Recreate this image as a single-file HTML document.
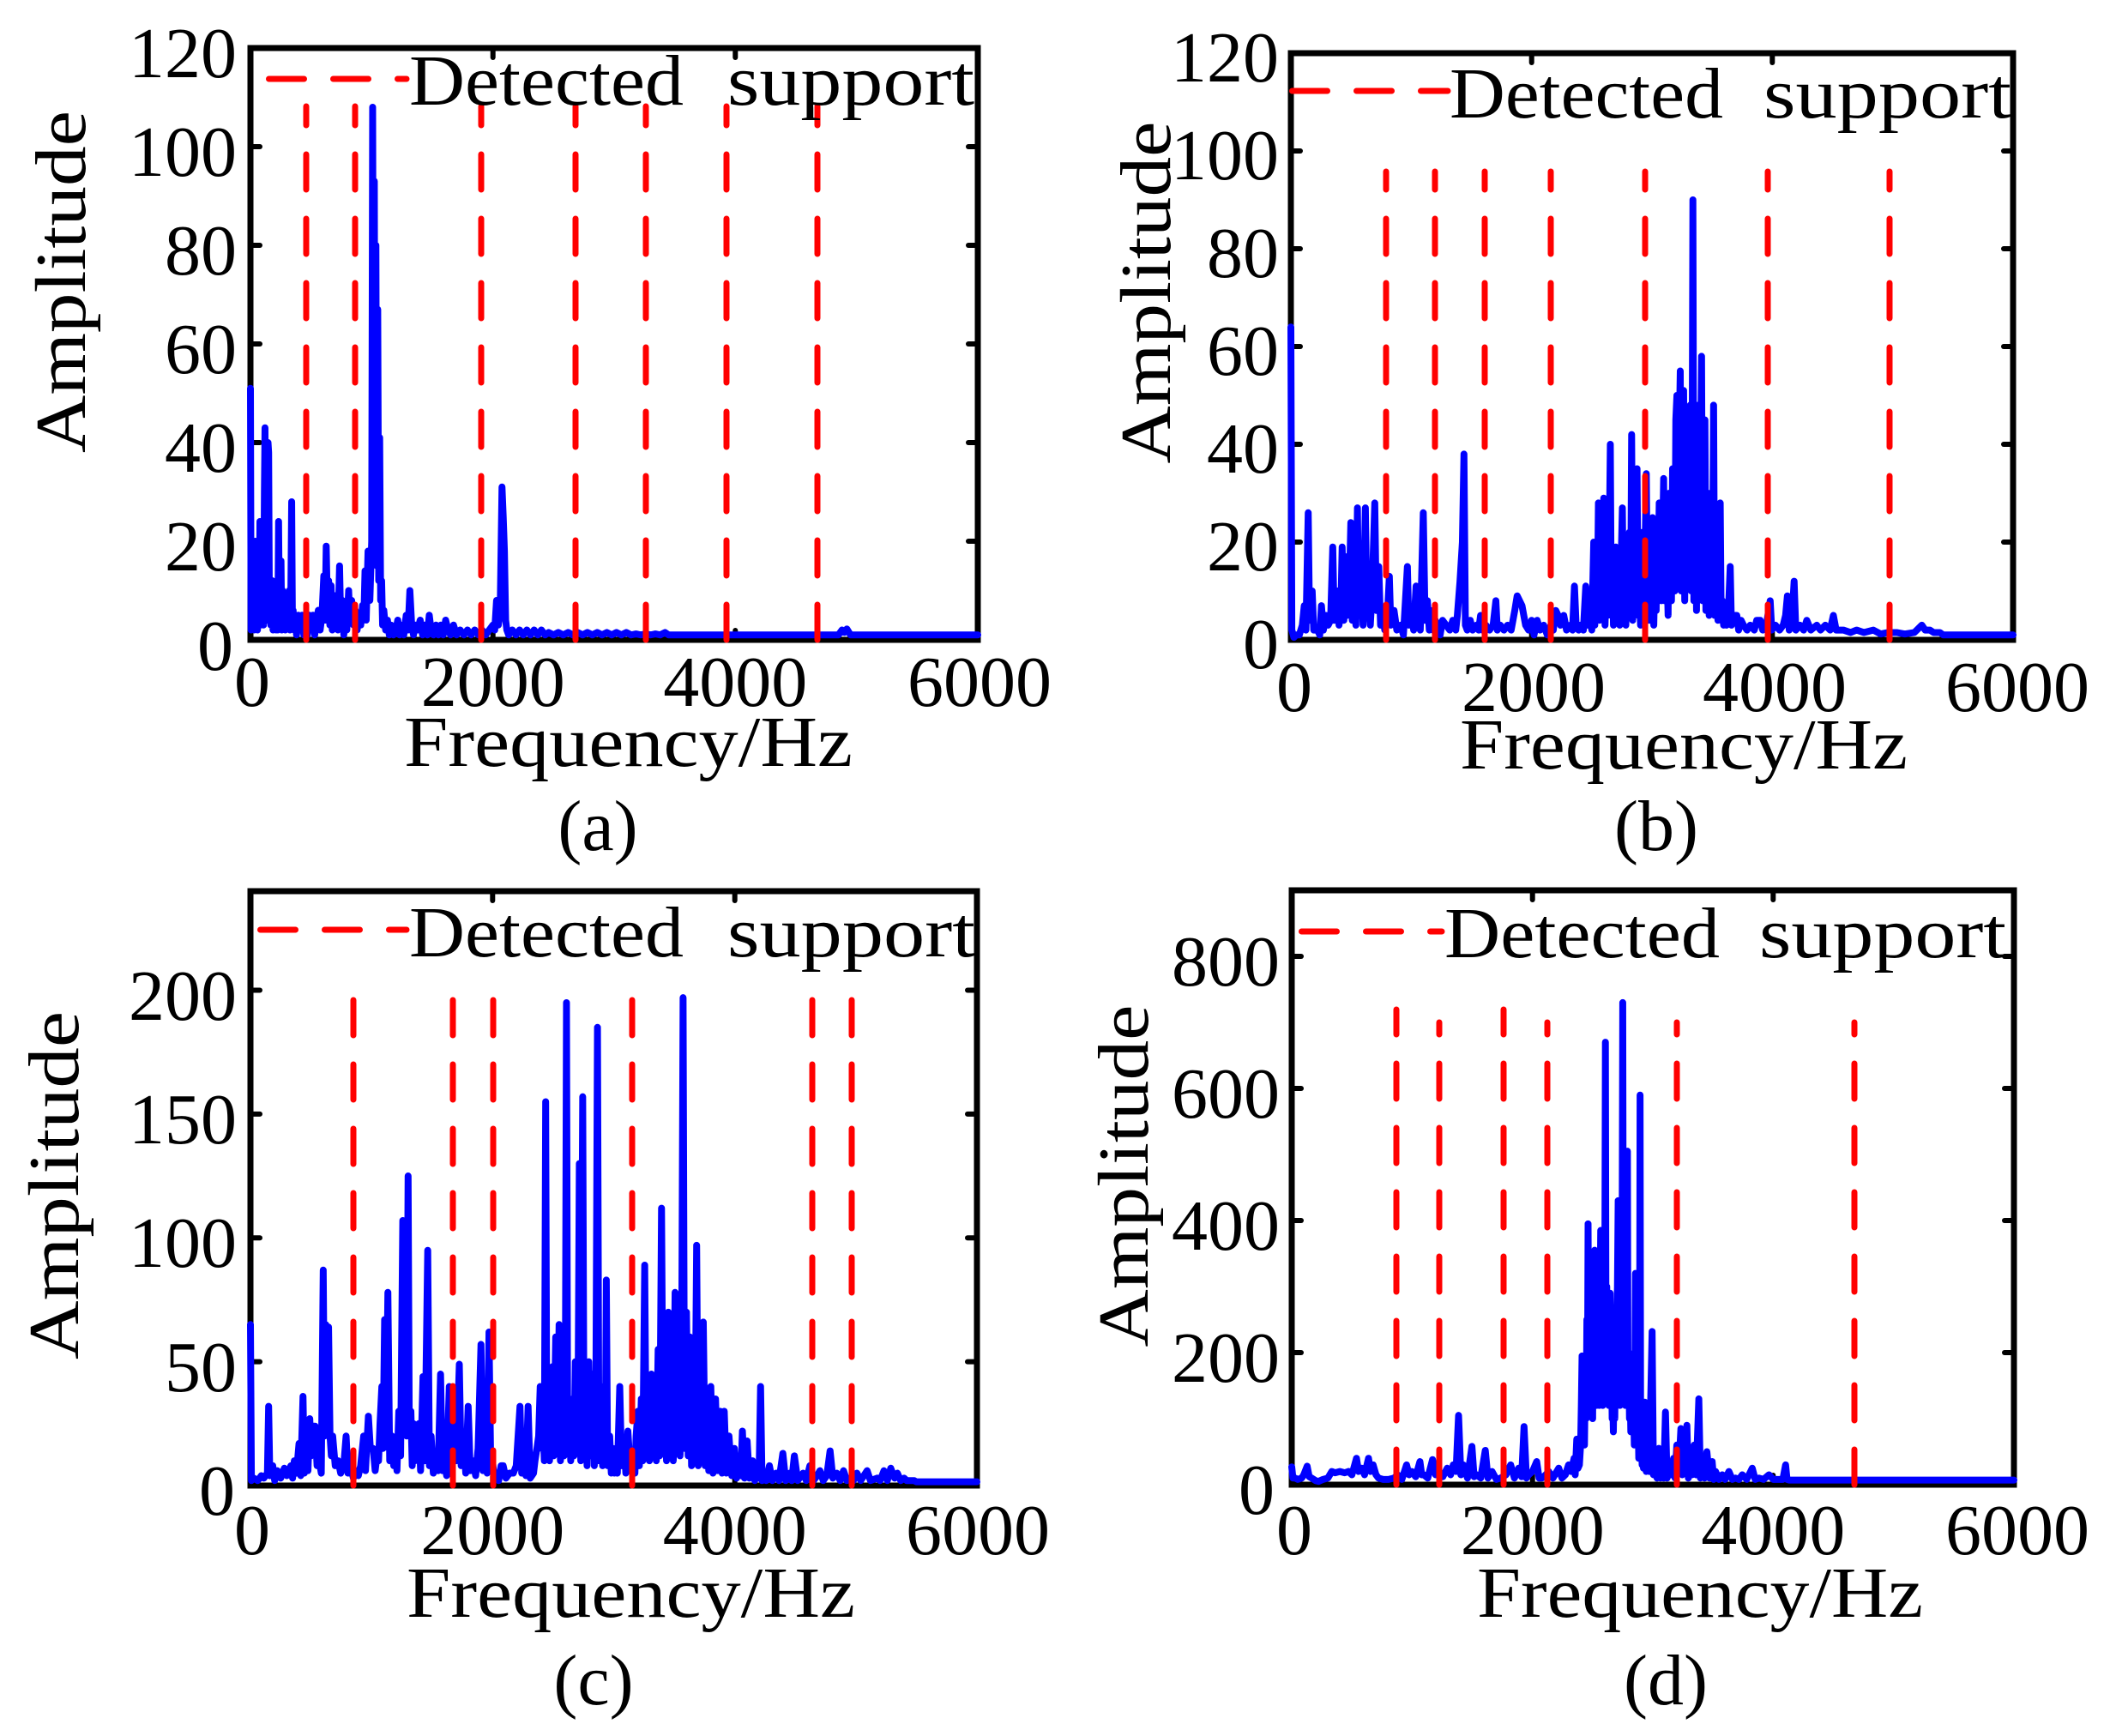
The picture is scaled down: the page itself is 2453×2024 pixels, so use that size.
<!DOCTYPE html>
<html>
<head>
<meta charset="utf-8">
<style>
html,body{margin:0;padding:0;background:#fff;}
svg{display:block;}
</style>
</head>
<body>
<svg xmlns="http://www.w3.org/2000/svg" width="2453" height="2024" viewBox="0 0 2453 2024" font-family="'Liberation Serif', serif" font-size="84" fill="#000">
<rect x="0" y="0" width="2453" height="2024" fill="#fff"/>

<!-- ================= AXES (drawn beneath data) ================= -->
<g fill="none" stroke="#000" stroke-width="7">
<rect x="292" y="56" width="848" height="690"/>
<rect x="1505" y="62" width="842" height="684"/>
<rect x="292" y="1039" width="847" height="693"/>
<rect x="1506" y="1038" width="842" height="693"/>
</g>
<g stroke="#000" stroke-width="6" stroke-linecap="round">
<line x1="292" y1="631" x2="303" y2="631"/><line x1="292" y1="516" x2="303" y2="516"/><line x1="292" y1="401" x2="303" y2="401"/><line x1="292" y1="286" x2="303" y2="286"/><line x1="292" y1="171" x2="303" y2="171"/>
<line x1="1140" y1="631" x2="1129" y2="631"/><line x1="1140" y1="516" x2="1129" y2="516"/><line x1="1140" y1="401" x2="1129" y2="401"/><line x1="1140" y1="286" x2="1129" y2="286"/><line x1="1140" y1="171" x2="1129" y2="171"/>
<line x1="574.7" y1="746" x2="574.7" y2="735"/><line x1="857.3" y1="746" x2="857.3" y2="735"/>
<line x1="574.7" y1="56" x2="574.7" y2="67"/><line x1="857.3" y1="56" x2="857.3" y2="67"/>
<line x1="1505" y1="632" x2="1516" y2="632"/><line x1="1505" y1="518" x2="1516" y2="518"/><line x1="1505" y1="404" x2="1516" y2="404"/><line x1="1505" y1="290" x2="1516" y2="290"/><line x1="1505" y1="176" x2="1516" y2="176"/>
<line x1="2347" y1="632" x2="2336" y2="632"/><line x1="2347" y1="518" x2="2336" y2="518"/><line x1="2347" y1="404" x2="2336" y2="404"/><line x1="2347" y1="290" x2="2336" y2="290"/><line x1="2347" y1="176" x2="2336" y2="176"/>
<line x1="1785.7" y1="746" x2="1785.7" y2="735"/><line x1="2066.3" y1="746" x2="2066.3" y2="735"/>
<line x1="1785.7" y1="62" x2="1785.7" y2="73"/><line x1="2066.3" y1="62" x2="2066.3" y2="73"/>
<line x1="292" y1="1587.6" x2="303" y2="1587.6"/><line x1="292" y1="1443.3" x2="303" y2="1443.3"/><line x1="292" y1="1298.9" x2="303" y2="1298.9"/><line x1="292" y1="1154.5" x2="303" y2="1154.5"/>
<line x1="1139" y1="1587.6" x2="1128" y2="1587.6"/><line x1="1139" y1="1443.3" x2="1128" y2="1443.3"/><line x1="1139" y1="1298.9" x2="1128" y2="1298.9"/><line x1="1139" y1="1154.5" x2="1128" y2="1154.5"/>
<line x1="574.3" y1="1732" x2="574.3" y2="1721"/><line x1="856.7" y1="1732" x2="856.7" y2="1721"/>
<line x1="574.3" y1="1039" x2="574.3" y2="1050"/><line x1="856.7" y1="1039" x2="856.7" y2="1050"/>
<line x1="1506" y1="1577" x2="1517" y2="1577"/><line x1="1506" y1="1423" x2="1517" y2="1423"/><line x1="1506" y1="1269" x2="1517" y2="1269"/><line x1="1506" y1="1115" x2="1517" y2="1115"/>
<line x1="2348" y1="1577" x2="2337" y2="1577"/><line x1="2348" y1="1423" x2="2337" y2="1423"/><line x1="2348" y1="1269" x2="2337" y2="1269"/><line x1="2348" y1="1115" x2="2337" y2="1115"/>
<line x1="1786.7" y1="1731" x2="1786.7" y2="1720"/><line x1="2067.3" y1="1731" x2="2067.3" y2="1720"/>
<line x1="1786.7" y1="1038" x2="1786.7" y2="1049"/><line x1="2067.3" y1="1038" x2="2067.3" y2="1049"/>
</g>

<!-- ================= DATA ================= -->
<g fill="none" stroke="#0000ff" stroke-width="8" stroke-linejoin="round" stroke-linecap="round">
<!-- (a) -->
<polyline class="sp" vector-effect="non-scaling-stroke" transform="translate(292,746) scale(0.141333,-5.75)" points="0,51 5,2 12,10 18,3 25,8 32,2 40,20 46,3 52,10 58,2 66,12 72,3 78,24 84,3 90,20 96,4 102,10 108,3 115,30 120,43 126,6 132,12 138,4 145,40 150,38 156,8 162,12 168,3 175,10 180,12 186,2 192,8 198,3 205,6 212,2 220,10 226,2 232,24 238,6 245,3 252,16 258,2 265,10 272,3 280,6 288,2 296,8 304,3 312,6 320,10 326,2 332,6 340,28 346,4 352,6 360,2 368,5 380,1 395,5 410,2 425,5 440,1 455,5 470,1 485,5 500,2 515,5 530,1 545,4 560,6 575,2 590,5 605,13 615,4 625,19 635,6 645,12 655,3 665,11 675,2 690,9 700,3 712,8 722,2 735,15 745,3 758,8 770,1 785,6 795,2 810,10 820,4 835,8 850,3 865,6 880,2 895,5 910,3 925,7 935,4 945,14 955,4 970,18 985,8 1000,20 1008,108 1015,30 1022,93 1028,20 1035,80 1042,15 1050,67 1058,12 1066,41 1074,8 1082,12 1090,3 1100,6 1115,2 1130,4 1145,1 1160,3 1180,1 1200,2 1215,4 1230,1 1245,3 1265,1 1285,5 1300,2 1315,10 1330,3 1345,1 1360,3 1380,2 1400,4 1420,1 1440,3 1460,1 1475,5 1490,2 1510,1 1530,3 1550,1 1570,3 1590,1 1610,4 1630,2 1650,1 1675,3 1700,1 1730,2 1760,1 1790,2 1820,1 1850,2 1880,1 1910,2 1940,1 1970,2 2000,3 2015,2 2030,8 2045,3 2060,6 2075,31 2085,25 2095,18 2105,4 2115,2 2130,1 2160,2 2190,1 2220,2 2250,1 2280,2 2310,1 2340,2 2370,1 2400,2 2430,1 2460,1.5 2500,1 2540,1.5 2580,1 2620,1.5 2660,1 2700,1.5 2740,1 2780,1.5 2820,1 2860,1.5 2900,1 2940,1.5 2980,1 3020,1.5 3060,1 3100,1.5 3140,1 3180,1.2 3220,1 3260,1.2 3300,1 3340,1.2 3380,1 3420,1.5 3450,1 4850,1 4880,2 4900,1.5 4920,2.2 4950,1 6000,1"/>
<!-- (b) -->
<polyline class="sp" vector-effect="non-scaling-stroke" transform="translate(1505,746) scale(0.140333,-5.7)" points="0,64 8,2 25,0.5 44,1 70,1 95,3 111,7 125,2 144,26 155,4 177,10 190,2 221,2 240,1 254,7 270,2 293,5 310,3 330,4 348,19 360,4 375,10 387,10 400,3 415,6 426,19 440,4 459,17 470,5 485,10 498,24 510,4 525,15 540,3 553,27 565,5 586,12 600,3 619,27 632,5 647,8 660,3 675,10 697,28 710,6 730,15 745,3 763,5 780,2 800,4 818,13 830,3 857,6 880,2 912,3 935,1 968,15 980,3 1001,6 1020,2 1040,11 1052,3 1062,4 1075,2 1100,26 1115,4 1134,8 1150,2 1161,6 1180,2 1200,4 1217,3 1240,1 1260,4 1290,3 1320,2 1345,4 1370,2 1383,5 1405,12 1425,20 1438,38 1450,3 1465,2 1490,4 1510,2 1540,3 1560,2 1576,5 1590,2 1620,3 1650,2 1680,3 1703,8 1715,2 1740,3 1770,2 1800,3 1830,2 1860,6 1880,9 1900,8 1920,7 1935,5 1950,3 1975,2 2000,4 2020,1 2046,4 2070,2 2100,3 2130,1 2160,3 2180,2 2201,6 2220,5 2240,3 2267,5 2290,2 2320,3 2340,2 2356,11 2370,3 2390,2 2405,3 2430,2 2450,11 2465,3 2488,4 2500,2 2516,20 2525,3 2533,16 2545,5 2555,28 2565,4 2580,18 2590,6 2599,29 2610,3 2620,12 2632,5 2643,15 2654,40 2662,5 2672,14 2680,3 2690,17 2699,19 2710,4 2720,12 2732,3 2743,15 2754,27 2763,6 2773,18 2783,3 2793,18 2803,8 2812,22 2822,5 2831,42 2840,4 2850,20 2858,6 2866,15 2876,35 2885,5 2895,12 2905,3 2912,18 2920,22 2930,5 2940,14 2953,34 2962,6 2972,18 2980,4 2986,20 2995,8 3005,25 3015,3 3025,15 3035,6 3042,22 3050,10 3060,28 3069,26 3078,8 3088,20 3097,33 3105,8 3115,25 3124,15 3134,5 3143,30 3152,20 3162,8 3171,35 3180,30 3190,10 3198,45 3207,50 3215,12 3225,40 3235,55 3243,10 3253,35 3263,51 3272,8 3280,30 3290,40 3298,12 3308,35 3318,48 3326,10 3333,30 3340,90 3348,8 3356,20 3362,35 3370,6 3377,30 3384,48 3392,10 3400,25 3412,58 3420,8 3428,30 3440,45 3448,6 3458,20 3467,30 3475,5 3485,15 3495,8 3505,20 3512,48 3520,5 3530,12 3539,12 3548,4 3558,10 3567,28 3575,4 3585,8 3595,3 3606,7 3620,3 3635,6 3650,15 3660,3 3680,5 3705,5 3720,2 3740,4 3760,3 3790,2 3816,3 3850,2 3870,4 3899,4 3920,2 3950,3 3982,8 3995,2 4026,3 4060,2 4090,3 4110,5 4125,9 4140,2 4160,3 4181,12 4195,2 4230,3 4260,2 4286,4 4320,2 4369,3 4400,2 4440,3 4480,2 4507,5 4530,2 4560,2 4590,2 4650,1.5 4700,2 4760,1.5 4839,2 4900,1.2 4960,1.5 5032,1.5 5100,1.2 5180,1.5 5242,3 5270,2 5309,2 5340,1.5 5392,1.5 5420,1 6000,1"/>
<!-- (c) -->
<polyline class="sp" vector-effect="non-scaling-stroke" transform="translate(292,1732) scale(0.141167,-2.8875)" points="0,65 8,2 28,3 60,2 90,4 111,3 140,5 150,32 160,4 184,8 200,2 223,6 250,3 280,7 300,4 334,8 348,3 362,10 380,5 401,17 415,4 434,36 445,5 462,15 475,6 490,27 501,12 515,24 534,24 550,8 568,10 585,5 601,87 612,20 622,65 635,40 645,64 657,20 668,12 679,20 700,8 724,10 745,5 770,8 790,20 805,5 824,8 850,3 870,6 891,4 910,8 935,20 950,6 974,28 990,15 1013,15 1030,6 1045,12 1058,10 1070,25 1085,40 1095,15 1108,67 1120,20 1135,78 1150,10 1169,20 1183,8 1197,15 1210,6 1225,30 1240,12 1258,107 1268,25 1280,90 1290,20 1302,125 1312,20 1325,30 1336,8 1347,25 1360,10 1375,18 1391,25 1405,6 1425,44 1440,10 1464,95 1478,8 1492,20 1510,5 1531,10 1550,6 1570,45 1585,6 1603,10 1620,4 1642,40 1660,8 1681,38 1700,10 1725,49 1740,8 1759,20 1778,5 1798,32 1815,6 1837,10 1860,4 1880,15 1904,57 1920,6 1937,15 1955,5 1970,62 1985,6 1998,10 2015,3 2032,5 2050,2 2070,8 2087,8 2110,3 2140,5 2171,5 2195,8 2226,32 2240,5 2260,10 2275,4 2293,32 2310,3 2338,5 2350,10 2366,15 2380,20 2393,40 2405,15 2416,25 2427,10 2438,155 2448,12 2460,30 2470,10 2482,35 2494,48 2505,12 2521,60 2535,15 2549,65 2560,10 2577,25 2590,12 2600,30 2610,195 2620,15 2633,30 2645,10 2661,35 2672,12 2683,50 2695,15 2705,30 2716,130 2728,10 2744,157 2755,15 2766,40 2780,8 2794,50 2810,12 2828,45 2840,8 2852,30 2866,185 2878,10 2894,40 2908,8 2922,28 2930,10 2939,83 2950,8 2967,20 2980,5 2995,15 3005,5 3017,10 3030,5 3050,40 3065,8 3089,15 3100,5 3117,22 3135,8 3156,12 3175,5 3185,20 3200,30 3212,8 3228,35 3240,10 3256,89 3268,12 3284,40 3295,10 3312,45 3325,12 3340,30 3352,10 3367,55 3380,12 3395,112 3408,15 3423,55 3436,10 3451,70 3465,12 3479,45 3492,10 3507,78 3520,15 3534,75 3548,12 3560,40 3573,197 3585,15 3601,70 3615,12 3629,60 3643,8 3657,35 3670,10 3685,97 3698,8 3713,40 3726,10 3740,66 3755,8 3768,25 3785,6 3802,40 3820,5 3841,35 3860,6 3880,30 3895,5 3913,30 3930,5 3952,20 3975,4 3997,15 4015,3 4035,10 4050,4 4063,22 4080,3 4102,18 4120,3 4147,10 4165,2 4186,8 4200,3 4213,40 4225,2 4241,5 4260,2 4286,8 4310,2 4341,5 4365,2 4397,13 4420,2 4453,5 4470,2 4492,12 4520,2 4564,5 4590,2 4620,8 4650,2 4680,4 4703,6 4730,2 4760,4 4787,14 4810,3 4842,5 4870,2 4898,6 4925,2 4954,3 4980,2 5009,5 5040,2 5093,6 5120,2 5176,3 5200,2 5232,6 5260,2 5288,7 5320,3 5343,5 5370,2 5399,3 5420,2 5482,2 5500,1.5 6000,1.5"/>
<!-- (d) -->
<polyline class="sp" vector-effect="non-scaling-stroke" transform="translate(1506,1731) scale(0.140333,-0.77)" points="0,27 10,10 28,10 50,8 83,10 100,15 128,28 145,12 166,10 200,6 222,5 260,8 300,10 333,20 360,18 400,20 440,18 471,20 500,15 538,40 555,20 582,25 605,15 638,40 655,20 676,30 700,15 721,10 760,8 804,8 850,10 880,15 915,8 954,30 975,15 998,20 1030,12 1065,35 1080,15 1098,15 1130,10 1170,38 1195,15 1220,20 1255,12 1292,25 1320,15 1342,30 1365,20 1386,105 1405,15 1425,30 1460,10 1497,58 1515,12 1536,15 1570,10 1608,52 1630,10 1664,20 1700,8 1736,10 1780,15 1819,30 1850,10 1885,25 1910,12 1930,88 1950,10 1968,15 2000,20 2035,35 2055,10 2079,10 2110,15 2135,20 2170,10 2218,25 2245,10 2273,15 2300,30 2320,20 2346,40 2355,15 2368,69 2378,25 2390,30 2400,60 2406,120 2412,195 2418,90 2425,140 2432,60 2440,180 2446,100 2452,250 2457,150 2462,395 2467,180 2472,260 2478,120 2484,300 2490,150 2495,220 2500,100 2506,300 2511,180 2517,355 2523,200 2529,250 2535,120 2541,280 2546,150 2551,200 2556,120 2561,260 2567,385 2572,150 2578,220 2584,120 2590,180 2595,140 2600,250 2606,670 2611,200 2617,300 2623,200 2628,260 2634,120 2640,220 2645,290 2650,150 2656,200 2662,100 2667,130 2672,80 2678,150 2684,100 2689,200 2695,120 2700,250 2706,300 2712,430 2717,150 2722,250 2728,120 2733,200 2738,150 2744,300 2750,730 2755,200 2761,280 2767,180 2772,120 2778,200 2784,150 2789,505 2794,120 2800,200 2806,100 2811,150 2817,80 2822,120 2828,180 2834,80 2840,120 2846,60 2851,150 2856,320 2861,80 2866,120 2872,60 2878,100 2883,40 2889,80 2894,590 2899,40 2905,80 2911,30 2917,60 2922,25 2933,125 2945,20 2956,40 2970,20 2994,232 3005,15 3022,20 3035,10 3050,55 3063,10 3077,25 3090,10 3105,110 3118,10 3133,20 3150,15 3172,40 3185,10 3199,60 3215,20 3233,85 3245,15 3260,40 3272,20 3283,90 3295,10 3310,30 3325,15 3344,60 3360,15 3382,130 3395,10 3410,40 3430,10 3449,50 3470,10 3493,35 3505,8 3521,20 3550,8 3577,15 3600,8 3632,20 3660,8 3687,10 3715,8 3743,15 3780,8 3826,25 3850,8 3882,10 3920,8 3965,15 4000,8 4048,8 4080,8 4103,30 4115,8 4131,7 6000,7"/>
</g>

<!-- ================= RED DASHED LINES ================= -->
<g stroke="#ff0000" stroke-width="7" stroke-linecap="round" stroke-dasharray="41 34" fill="none">
<line x1="357" y1="746" x2="357" y2="124"/>
<line x1="414" y1="746" x2="414" y2="124"/>
<line x1="561" y1="746" x2="561" y2="124"/>
<line x1="671" y1="746" x2="671" y2="124"/>
<line x1="753" y1="746" x2="753" y2="124"/>
<line x1="847" y1="746" x2="847" y2="124"/>
<line x1="953" y1="746" x2="953" y2="124"/>
<line x1="313.5" y1="92" x2="474" y2="92"/>
<line x1="1616" y1="746" x2="1616" y2="200"/>
<line x1="1673" y1="746" x2="1673" y2="200"/>
<line x1="1731" y1="746" x2="1731" y2="200"/>
<line x1="1808" y1="746" x2="1808" y2="200"/>
<line x1="1918" y1="746" x2="1918" y2="200"/>
<line x1="2061" y1="746" x2="2061" y2="200"/>
<line x1="2203" y1="746" x2="2203" y2="200"/>
<line x1="1506.5" y1="106" x2="1688" y2="106"/>
<line x1="412" y1="1732" x2="412" y2="1162"/>
<line x1="528" y1="1732" x2="528" y2="1162"/>
<line x1="575" y1="1732" x2="575" y2="1162"/>
<line x1="737" y1="1732" x2="737" y2="1162"/>
<line x1="947" y1="1732" x2="947" y2="1162"/>
<line x1="993" y1="1732" x2="993" y2="1162"/>
<line x1="303.5" y1="1084" x2="474" y2="1084"/>
<line x1="1628" y1="1731" x2="1628" y2="1177"/>
<line x1="1678" y1="1731" x2="1678" y2="1192"/>
<line x1="1753" y1="1731" x2="1753" y2="1177"/>
<line x1="1804" y1="1731" x2="1804" y2="1192"/>
<line x1="1955" y1="1731" x2="1955" y2="1192"/>
<line x1="2162" y1="1731" x2="2162" y2="1192"/>
<line x1="1517.5" y1="1086" x2="1681" y2="1086"/>
</g>

<!-- ================= TEXT ================= -->
<g text-anchor="end">
<text x="276" y="90">120</text><text x="276" y="205">100</text><text x="276" y="320">80</text><text x="276" y="435">60</text><text x="276" y="550">40</text><text x="276" y="665">20</text><text x="272" y="781">0</text>
</g>
<g text-anchor="middle">
<text x="294" y="823">0</text><text x="574.7" y="823">2000</text><text x="857.3" y="823">4000</text><text x="1142" y="823">6000</text>
</g>
<text x="477" y="122" textLength="320" lengthAdjust="spacingAndGlyphs">Detected</text>
<text x="848" y="122" textLength="288" lengthAdjust="spacingAndGlyphs">support</text>
<text x="471" y="893" textLength="523" lengthAdjust="spacingAndGlyphs">Frequency/Hz</text>
<text transform="translate(99,328.5) rotate(-90)" text-anchor="middle" textLength="399" lengthAdjust="spacingAndGlyphs">Amplitude</text>
<text x="697" y="991" text-anchor="middle">(a)</text>

<g text-anchor="end">
<text x="1491" y="95">120</text><text x="1491" y="209">100</text><text x="1491" y="323">80</text><text x="1491" y="437">60</text><text x="1491" y="551">40</text><text x="1491" y="665">20</text><text x="1491" y="779">0</text>
</g>
<g text-anchor="middle">
<text x="1509" y="829">0</text><text x="1788" y="829">2000</text><text x="2069" y="829">4000</text><text x="2352" y="829">6000</text>
</g>
<text x="1690" y="137" textLength="319" lengthAdjust="spacingAndGlyphs">Detected</text>
<text x="2056" y="137" textLength="289" lengthAdjust="spacingAndGlyphs">support</text>
<text x="1702" y="896" textLength="522" lengthAdjust="spacingAndGlyphs">Frequency/Hz</text>
<text transform="translate(1364,341) rotate(-90)" text-anchor="middle" textLength="399" lengthAdjust="spacingAndGlyphs">Amplitude</text>
<text x="1931" y="991" text-anchor="middle">(b)</text>

<g text-anchor="end">
<text x="276" y="1189">200</text><text x="276" y="1333">150</text><text x="276" y="1477">100</text><text x="276" y="1622">50</text><text x="274" y="1766">0</text>
</g>
<g text-anchor="middle">
<text x="294" y="1812">0</text><text x="574.3" y="1812">2000</text><text x="856.7" y="1812">4000</text><text x="1140" y="1812">6000</text>
</g>
<text x="477" y="1115" textLength="320" lengthAdjust="spacingAndGlyphs">Detected</text>
<text x="848" y="1115" textLength="289" lengthAdjust="spacingAndGlyphs">support</text>
<text x="474" y="1885" textLength="523" lengthAdjust="spacingAndGlyphs">Frequency/Hz</text>
<text transform="translate(91,1382) rotate(-90)" text-anchor="middle" textLength="406" lengthAdjust="spacingAndGlyphs">Amplitude</text>
<text x="692" y="1987" text-anchor="middle">(c)</text>

<g text-anchor="end">
<text x="1492" y="1149">800</text><text x="1492" y="1303">600</text><text x="1492" y="1457">400</text><text x="1492" y="1611">200</text><text x="1486" y="1765">0</text>
</g>
<g text-anchor="middle">
<text x="1509" y="1812">0</text><text x="1786.7" y="1812">2000</text><text x="2067.3" y="1812">4000</text><text x="2352" y="1812">6000</text>
</g>
<text x="1684" y="1116" textLength="321" lengthAdjust="spacingAndGlyphs">Detected</text>
<text x="2051" y="1116" textLength="288" lengthAdjust="spacingAndGlyphs">support</text>
<text x="1722" y="1885" textLength="520" lengthAdjust="spacingAndGlyphs">Frequency/Hz</text>
<text transform="translate(1338,1371) rotate(-90)" text-anchor="middle" textLength="399" lengthAdjust="spacingAndGlyphs">Amplitude</text>
<text x="1942" y="1987" text-anchor="middle">(d)</text>
</svg>
<script>
(function(){
  var P=[[292,746,0.141333,5.75],[1505,746,0.140333,5.7],[292,1732,0.141167,2.8875],[1506,1731,0.140333,0.77]];
  var pls=document.querySelectorAll('polyline.sp');
  for(var i=0;i<pls.length&&i<P.length;i++){
    var p=P[i];
    var pts=pls[i].getAttribute('points').trim().split(/\s+/);
    var out=[];
    for(var j=0;j<pts.length;j++){
      var xy=pts[j].split(',');
      var x=p[0]+p[2]*parseFloat(xy[0]);
      var y=p[1]-p[3]*parseFloat(xy[1]);
      out.push(x.toFixed(2)+','+y.toFixed(2));
    }
    pls[i].setAttribute('points',out.join(' '));
    pls[i].removeAttribute('transform');
    pls[i].removeAttribute('vector-effect');
  }
})();
</script>
</body>
</html>
